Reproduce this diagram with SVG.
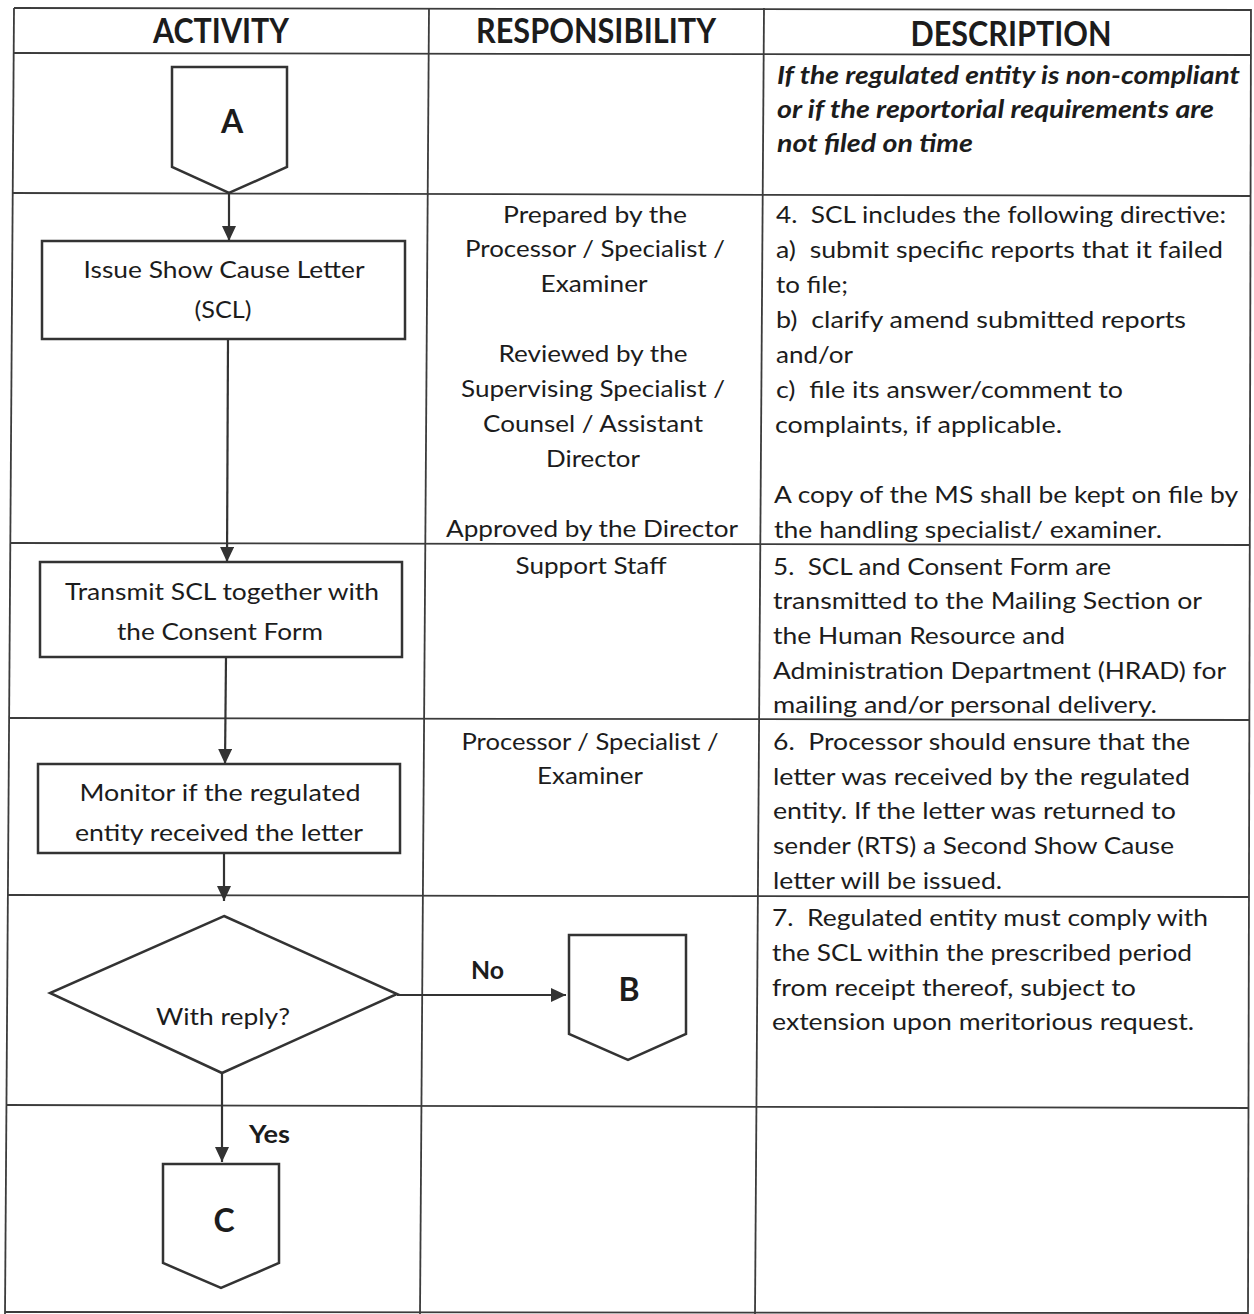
<svg xmlns="http://www.w3.org/2000/svg" width="1254" height="1314" viewBox="0 0 1254 1314">
  <defs>
    <marker id="arrow" markerUnits="userSpaceOnUse" markerWidth="15" markerHeight="14" refX="15" refY="7" orient="auto">
      <path d="M0,0 L15,7 L0,14 z" fill="#333"/>
    </marker>
  </defs>
  <style>
    .grid line { stroke: #3c3c3c; stroke-width: 1.8; }
    .shape { fill: #fff; stroke: #333; stroke-width: 2.5; stroke-linejoin: miter; }
    .conn { fill: none; stroke: #333; stroke-width: 2.2; marker-end: url(#arrow); }
    text { font-family: Lato, "Liberation Sans", sans-serif; fill: #1c1c1c; font-size: 24px; }
    #description text { white-space: pre; }
    .c { text-anchor: middle; }
    .head { font-weight: bold; font-size: 34px; }
    .bi { font-weight: bold; font-style: italic; }
    .lbl { font-weight: bold; font-size: 25px; }
    .big { font-weight: bold; font-size: 32px; }
  </style>

  <rect width="1254" height="1314" fill="#fff"/>

  <!-- table frame: three columns, six rows -->
  <g class="grid">
    <line x1="14" y1="8" x2="5" y2="1314"/>
    <line x1="429" y1="8" x2="420" y2="1314"/>
    <line x1="764" y1="8" x2="755" y2="1314"/>
    <line x1="1251" y1="9" x2="1248" y2="1314"/>
    <line x1="14" y1="8" x2="1251" y2="10"/>
    <line x1="13.6" y1="53" x2="1251" y2="55"/>
    <line x1="12.7" y1="193" x2="1251" y2="196"/>
    <line x1="10.3" y1="543" x2="1250" y2="545"/>
    <line x1="9.1" y1="718" x2="1250" y2="720"/>
    <line x1="7.9" y1="895" x2="1249" y2="897"/>
    <line x1="6.5" y1="1105" x2="1249" y2="1108"/>
    <line x1="5.1" y1="1312" x2="1248" y2="1313"/>
  </g>

  <!-- column headings -->
  <g id="headings">
    <text class="head c" x="221" y="43" textLength="136" lengthAdjust="spacingAndGlyphs">ACTIVITY</text>
    <text class="head c" x="596" y="43" textLength="240" lengthAdjust="spacingAndGlyphs">RESPONSIBILITY</text>
    <text class="head c" x="1011" y="46" textLength="201" lengthAdjust="spacingAndGlyphs">DESCRIPTION</text>
  </g>

  <!-- connectors -->
  <g id="connectors">
    <path class="conn" d="M229,193 L229,241"/>
    <path class="conn" d="M228,339 L227,562"/>
    <path class="conn" d="M226,657 L225,764"/>
    <path class="conn" d="M224,853 L224,901"/>
    <path class="conn" d="M397,995 L566,995"/>
    <path class="conn" d="M222,1073 L222,1162"/>
    <text class="lbl" x="471" y="979" textLength="33" lengthAdjust="spacingAndGlyphs">No</text>
    <text class="lbl" x="249" y="1143" textLength="41" lengthAdjust="spacingAndGlyphs">Yes</text>
  </g>

  <!-- flow nodes -->
  <g id="node-a">
    <polygon class="shape" points="172,67 287,67 287,167 229,193 172,167"/>
    <text class="big c" x="232" y="133">A</text>
  </g>
  <g id="node-issue-scl">
    <rect class="shape" x="42" y="241" width="363" height="98"/>
    <text class="c" x="224" y="278" textLength="281" lengthAdjust="spacingAndGlyphs">Issue Show Cause Letter</text>
    <text class="c" x="223" y="318" textLength="57" lengthAdjust="spacingAndGlyphs">(SCL)</text>
  </g>
  <g id="node-transmit">
    <rect class="shape" x="40" y="562" width="362" height="95"/>
    <text class="c" x="222" y="600" textLength="314" lengthAdjust="spacingAndGlyphs">Transmit SCL together with</text>
    <text class="c" x="220" y="640" textLength="206" lengthAdjust="spacingAndGlyphs">the Consent Form</text>
  </g>
  <g id="node-monitor">
    <rect class="shape" x="38" y="764" width="362" height="89"/>
    <text class="c" x="220" y="801" textLength="281" lengthAdjust="spacingAndGlyphs">Monitor if the regulated</text>
    <text class="c" x="219" y="841" textLength="288" lengthAdjust="spacingAndGlyphs">entity received the letter</text>
  </g>
  <g id="node-with-reply">
    <polygon class="shape" points="224,916 397,994 222,1073 50,993"/>
    <text class="c" x="223" y="1025" textLength="134" lengthAdjust="spacingAndGlyphs">With reply?</text>
  </g>
  <g id="node-b">
    <polygon class="shape" points="569,935 686,935 686,1034 628,1060 569,1034"/>
    <text class="big c" x="629" y="1001">B</text>
  </g>
  <g id="node-c">
    <polygon class="shape" points="163,1164 279,1164 279,1263 221,1288 163,1263"/>
    <text class="big c" x="224" y="1232">C</text>
  </g>

  <!-- responsibility column -->
  <g id="responsibility">
    <text class="c" x="595" y="223" textLength="184" lengthAdjust="spacingAndGlyphs">Prepared by the</text>
    <text class="c" x="595" y="257" textLength="260" lengthAdjust="spacingAndGlyphs">Processor / Specialist /</text>
    <text class="c" x="594" y="292" textLength="107" lengthAdjust="spacingAndGlyphs">Examiner</text>
    <text class="c" x="593" y="362" textLength="189" lengthAdjust="spacingAndGlyphs">Reviewed by the</text>
    <text class="c" x="593" y="397" textLength="264" lengthAdjust="spacingAndGlyphs">Supervising Specialist /</text>
    <text class="c" x="593" y="432" textLength="220" lengthAdjust="spacingAndGlyphs">Counsel / Assistant</text>
    <text class="c" x="593" y="467" textLength="94" lengthAdjust="spacingAndGlyphs">Director</text>
    <text class="c" x="592" y="537" textLength="292" lengthAdjust="spacingAndGlyphs">Approved by the Director</text>
    <text class="c" x="591" y="574" textLength="151" lengthAdjust="spacingAndGlyphs">Support Staff</text>
    <text class="c" x="590" y="750" textLength="257" lengthAdjust="spacingAndGlyphs">Processor / Specialist /</text>
    <text class="c" x="590" y="784" textLength="106" lengthAdjust="spacingAndGlyphs">Examiner</text>
  </g>

  <!-- description column -->
  <g id="description" xml:space="preserve">
    <text class="bi" x="777" y="84" textLength="463" lengthAdjust="spacingAndGlyphs">If the regulated entity is non-compliant</text>
    <text class="bi" x="777" y="118" textLength="437" lengthAdjust="spacingAndGlyphs">or if the reportorial requirements are</text>
    <text class="bi" x="777" y="152" textLength="196" lengthAdjust="spacingAndGlyphs">not filed on time</text>

    <text x="776" y="223" textLength="450" lengthAdjust="spacingAndGlyphs">4.  SCL includes the following directive:</text>
    <text x="776" y="258" textLength="447" lengthAdjust="spacingAndGlyphs">a)  submit specific reports that it failed</text>
    <text x="776" y="293" textLength="72" lengthAdjust="spacingAndGlyphs">to file;</text>
    <text x="776" y="328" textLength="410" lengthAdjust="spacingAndGlyphs">b)  clarify amend submitted reports</text>
    <text x="776" y="363" textLength="77" lengthAdjust="spacingAndGlyphs">and/or</text>
    <text x="776" y="398" textLength="347" lengthAdjust="spacingAndGlyphs">c)  file its answer/comment to</text>
    <text x="775" y="433" textLength="287" lengthAdjust="spacingAndGlyphs">complaints, if applicable.</text>
    <text x="774" y="503" textLength="464" lengthAdjust="spacingAndGlyphs">A copy of the MS shall be kept on file by</text>
    <text x="774" y="538" textLength="388" lengthAdjust="spacingAndGlyphs">the handling specialist/ examiner.</text>

    <text x="773" y="575" textLength="338" lengthAdjust="spacingAndGlyphs">5.  SCL and Consent Form are</text>
    <text x="773" y="609" textLength="429" lengthAdjust="spacingAndGlyphs">transmitted to the Mailing Section or</text>
    <text x="773" y="644" textLength="292" lengthAdjust="spacingAndGlyphs">the Human Resource and</text>
    <text x="773" y="679" textLength="453" lengthAdjust="spacingAndGlyphs">Administration Department (HRAD) for</text>
    <text x="773" y="713" textLength="384" lengthAdjust="spacingAndGlyphs">mailing and/or personal delivery.</text>

    <text x="773" y="750" textLength="417" lengthAdjust="spacingAndGlyphs">6.  Processor should ensure that the</text>
    <text x="773" y="785" textLength="417" lengthAdjust="spacingAndGlyphs">letter was received by the regulated</text>
    <text x="773" y="819" textLength="403" lengthAdjust="spacingAndGlyphs">entity. If the letter was returned to</text>
    <text x="773" y="854" textLength="401" lengthAdjust="spacingAndGlyphs">sender (RTS) a Second Show Cause</text>
    <text x="773" y="889" textLength="229" lengthAdjust="spacingAndGlyphs">letter will be issued.</text>

    <text x="772" y="926" textLength="436" lengthAdjust="spacingAndGlyphs">7.  Regulated entity must comply with</text>
    <text x="772" y="961" textLength="420" lengthAdjust="spacingAndGlyphs">the SCL within the prescribed period</text>
    <text x="772" y="996" textLength="364" lengthAdjust="spacingAndGlyphs">from receipt thereof, subject to</text>
    <text x="772" y="1030" textLength="422" lengthAdjust="spacingAndGlyphs">extension upon meritorious request.</text>
  </g>
</svg>
